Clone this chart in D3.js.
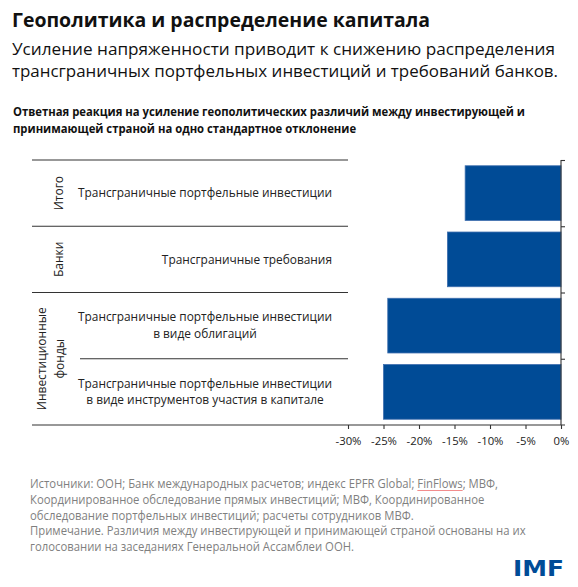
<!DOCTYPE html>
<html><head><meta charset="utf-8">
<script src="https://cdn.jsdelivr.net/npm/d3@7/dist/d3.min.js"></script>
<style>html,body{margin:0;padding:0;background:#fff;}svg{display:block;}</style>
</head><body>
<script>
const categories = [
  ["Трансграничные портфельные инвестиции"],
  ["Трансграничные требования"],
  ["Трансграничные портфельные инвестиции", "в виде облигаций"],
  ["Трансграничные портфельные инвестиции", "в виде инструментов участия в капитале"]
];
const values = [-13.5, -16.0, -24.4, -25.0];
const groupLabels = [["Итого"], ["Банки"], ["Инвестиционные", "фонды"]];
const groupSpans = [[0, 0], [1, 1], [2, 3]];
const xTicks = [-30, -25, -20, -15, -10, -5, 0];
const titleText = "Геополитика и распределение капитала";
const subtitleLines = ["Усиление напряженности приводит к снижению распределения",
  "трансграничных портфельных инвестиций и требований банков."];
const chartTitleLines = ["Ответная реакция на усиление геополитических различий между инвестирующей и",
  "принимающей страной на одно стандартное отклонение"];
const sourceLines = [
  "Источники: ООН; Банк международных расчетов; индекс EPFR Global; FinFlows; МВФ,",
  "Координированное обследование прямых инвестиций; МВФ, Координированное",
  "обследование портфельных инвестиций; расчеты сотрудников МВФ.",
  "Примечание. Различия между инвестирующей и принимающей страной основаны на их",
  "голосовании на заседаниях Генеральной Ассамблеи ООН."
];

const W = 578, H = 587;
const FONT = "'Open Sans','Noto Sans',sans-serif";
const svg = d3.select("body").append("svg").attr("width", W).attr("height", H)
  .style("font-family", FONT);

function styleLines(sel, fs, refTarget) {
  sel.attr("font-size", fs);
  const nat = sel.nodes().map(n => n.getComputedTextLength());
  const r = refTarget / nat[0];
  sel.each(function (d, i) {
    d3.select(this).attr("textLength", nat[i] * r).attr("lengthAdjust", "spacingAndGlyphs");
  });
  return r;
}
function natWidth(txt, fs, weight) {
  const n = svg.append("text").attr("font-size", fs).attr("font-weight", weight || 400).text(txt);
  const w = n.node().getComputedTextLength(); n.remove(); return w;
}

// Title
const t = svg.selectAll("text.title").data([titleText]).join("text").attr("class", "title")
  .attr("x", 12).attr("y", 27).attr("font-weight", 700).attr("fill", "#111").text(d => d);
styleLines(t, 18.8, 418);

// Subtitle: one text element with two tspans; size chosen so natural width fits
const subTargets = [543, 546];
const subFs = 17 * 543 / natWidth(subtitleLines[0], 17);
const subText = svg.append("text").attr("class", "sub").attr("font-size", subFs).attr("fill", "#111");
subText.selectAll("tspan").data(subtitleLines).join("tspan")
  .attr("x", 12).attr("y", (d, i) => 55 + i * 22)
  .attr("textLength", (d, i) => subTargets[i]).attr("lengthAdjust", "spacingAndGlyphs")
  .text(d => d);

// Chart title
const ct = svg.selectAll("text.ct").data(chartTitleLines).join("text").attr("class", "ct")
  .attr("x", 13).attr("y", (d, i) => 116 + i * 17).attr("font-weight", 700)
  .attr("fill", "#111").text(d => d);
styleLines(ct, 11.8, 512);

// Scales
const x = d3.scaleLinear().domain([-30, 0]).range([348, 561]);
const y = d3.scaleBand().domain(d3.range(categories.length)).range([160, 425])
  .paddingInner(0.174).paddingOuter(0.087);
const step = y.step();
const bandTop = i => y(i) - y.paddingInner() * step / 2;

const lineColor = "#333";
const sepY = d3.range(categories.length).map(i => bandTop(i));
groupSpans.forEach(([s, e]) => {
  svg.append("line").attr("x1", 32).attr("x2", 348).attr("y1", bandTop(s)).attr("y2", bandTop(s))
    .attr("stroke", lineColor).attr("stroke-width", 1.2);
  for (let k = s + 1; k <= e; k++) {
    svg.append("line").attr("x1", 80).attr("x2", 348).attr("y1", bandTop(k)).attr("y2", bandTop(k))
      .attr("stroke", lineColor).attr("stroke-width", 1.2);
  }
});
svg.append("line").attr("x1", 32).attr("x2", 565).attr("y1", 425).attr("y2", 425)
  .attr("stroke", lineColor).attr("stroke-width", 1.2);

// Bars
svg.selectAll("rect.bar").data(values).join("rect").attr("class", "bar")
  .attr("x", d => x(d)).attr("width", d => x(0) - x(d))
  .attr("y", (d, i) => y(i)).attr("height", y.bandwidth())
  .attr("fill", "#004B96").attr("stroke", "#3f6fae").attr("stroke-width", 0.8);

// Bottom axis
const xAxis = d3.axisBottom(x).tickValues(xTicks).tickSize(4).tickPadding(8)
  .tickFormat(d => d + "%");
const gx = svg.append("g").attr("transform", "translate(0,425)").call(xAxis);
gx.select(".domain").remove();
gx.selectAll(".tick line").attr("stroke", lineColor).attr("stroke-width", 1.1);
gx.selectAll(".tick text").attr("font-family", FONT).attr("font-size", 11.3).attr("fill", "#222");

// Right vertical axis line with ticks to the right
const gy = svg.append("g").attr("transform", `translate(${x(0)},0)`)
  .call(d3.axisRight(d3.scaleLinear().domain([0, 1]).range([160, 425]))
    .tickValues(sepY.map(v => (v - 160) / 265)).tickSize(4).tickFormat(""));
gy.select(".domain").attr("stroke", lineColor).attr("stroke-width", 1.1).attr("d", "M0,160V425");
gy.selectAll(".tick line").attr("stroke", lineColor).attr("stroke-width", 1.1);

// Category labels
const catFs = 11.8;
const catR = 254 / natWidth(categories[0][0], catFs);
const catG = svg.append("g");
categories.forEach((lines, i) => {
  const cy = y(i) + y.bandwidth() / 2;
  const lh = 16.7;
  const ws = lines.map(l => natWidth(l, catFs) * catR);
  const maxW = d3.max(ws);
  const cx = 332 - maxW / 2;
  lines.forEach((l, j) => {
    catG.append("text").attr("x", cx).attr("y", cy + (j - (lines.length - 1) / 2) * lh)
      .attr("dy", "0.35em").attr("text-anchor", "middle").attr("font-size", catFs)
      .attr("textLength", ws[j]).attr("lengthAdjust", "spacingAndGlyphs")
      .attr("fill", "#222").text(l);
  });
});

// Group labels rotated
const gFs = 11.7;
const gR = 103 / natWidth("Инвестиционные", gFs);
groupLabels.forEach((lines, gi) => {
  const [s, e] = groupSpans[gi];
  const top = bandTop(s), bot = (e + 1 < categories.length) ? bandTop(e + 1) : 425;
  const cy = (top + bot) / 2;
  const xs = lines.length === 1 ? [59] : [42, 60];
  lines.forEach((l, j) => {
    svg.append("text").attr("transform", `translate(${xs[j]},${cy}) rotate(-90)`)
      .attr("dy", "0.35em").attr("text-anchor", "middle").attr("font-size", gFs)
      .attr("textLength", natWidth(l, gFs) * gR).attr("lengthAdjust", "spacingAndGlyphs")
      .attr("fill", "#222").text(l);
  });
});

// Source
const src = svg.selectAll("text.src").data(sourceLines).join("text").attr("class", "src")
  .attr("x", 30).attr("y", (d, i) => 488 + i * 15.8).attr("fill", "#7f7f7f").text(d => d);
styleLines(src, 11.7, 468);
(function () {
  const n = src.nodes()[0];
  const s = sourceLines[0].indexOf("FinFlows");
  const p0 = n.getStartPositionOfChar(s), p1 = n.getEndPositionOfChar(s + 7);
  svg.append("line").attr("x1", p0.x).attr("x2", p1.x).attr("y1", 490.5).attr("y2", 490.5)
    .attr("stroke", "#f08080").attr("stroke-width", 0.9);
})();

// IMF logo
svg.append("text").attr("x", 513).attr("y", 576).attr("font-family", "'DejaVu Sans',sans-serif")
  .attr("font-weight", 700).attr("font-size", 21).attr("fill", "#004C97")
  .attr("textLength", 51).attr("lengthAdjust", "spacingAndGlyphs").text("IMF");
</script>
</body></html>
